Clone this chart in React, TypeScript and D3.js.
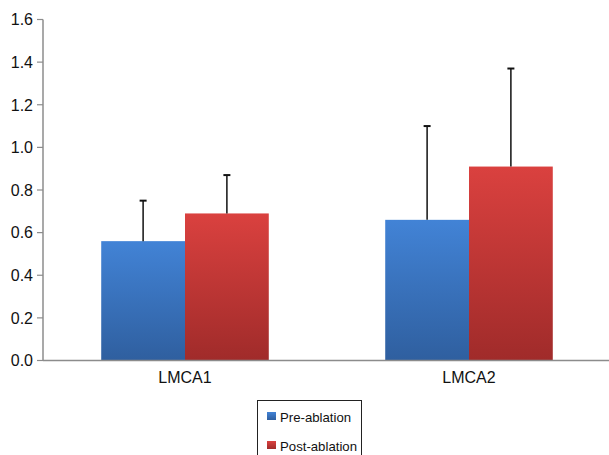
import React from "react";
import * as d3 from "d3";

const categories = ["LMCA1", "LMCA2"];
const seriesNames = ["Pre-ablation", "Post-ablation"];
const preValues = [0.56, 0.66];
const postValues = [0.69, 0.91];
const preErrors = [0.19, 0.44];
const postErrors = [0.18, 0.46];
const yTicks = [0, 0.2, 0.4, 0.6, 0.8, 1.0, 1.2, 1.4, 1.6];

const W = 609;
const H = 455;
const left = 43;
const right = 609;
const top = 19.5;
const bottom = 360.5;

export default function App() {
  const y = d3.scaleLinear().domain([0, 1.6]).range([bottom, top]);
  const x0 = d3.scaleBand<string>().domain(categories).range([left, right + 2]).paddingInner(0.41).paddingOuter(0.205);
  const x1 = d3.scaleBand<string>().domain(seriesNames).range([0, x0.bandwidth()]);
  const values = [preValues, postValues];
  const errors = [preErrors, postErrors];
  const grads = ["gradBlue", "gradRed"];
  const font = "Liberation Sans, Arial, Helvetica, sans-serif";

  return (
    <svg width={W} height={H} style={{ position: "absolute", left: 0, top: 0, background: "#fff" }}>
      <defs>
        <linearGradient id="gradBlue" x1="0" y1="0" x2="0" y2="1">
          <stop offset="0%" stopColor="#4283d6" />
          <stop offset="100%" stopColor="#2f5f9f" />
        </linearGradient>
        <linearGradient id="gradRed" x1="0" y1="0" x2="0" y2="1">
          <stop offset="0%" stopColor="#da413f" />
          <stop offset="100%" stopColor="#a02b2a" />
        </linearGradient>
      </defs>
      {/* y axis */}
      <line x1={left} x2={left} y1={top} y2={bottom} stroke="#8c8c8c" strokeWidth={1.5} />
      {yTicks.map((t) => (
        <g key={t}>
          <line x1={left - 6} x2={left} y1={y(t)} y2={y(t)} stroke="#8c8c8c" strokeWidth={1.2} />
          <text x={33} y={y(t)} dy="0.36em" textAnchor="end" fontFamily={font} fontSize={16} fill="#111">
            {d3.format(".1f")(t)}
          </text>
        </g>
      ))}
      {/* bars */}
      {categories.map((c, ci) => (
        <g key={c}>
          {seriesNames.map((s, si) => {
            const bx = (x0(c) ?? 0) + (x1(s) ?? 0);
            const v = values[si][ci];
            return (
              <rect key={s} x={bx} y={y(v)} width={x1.bandwidth()} height={bottom - y(v)} fill={`url(#${grads[si]})`} />
            );
          })}
        </g>
      ))}
      {/* error bars */}
      {categories.map((c, ci) => (
        <g key={c + "e"}>
          {seriesNames.map((s, si) => {
            const cx = (x0(c) ?? 0) + (x1(s) ?? 0) + x1.bandwidth() / 2;
            const v = values[si][ci];
            const e = errors[si][ci];
            return (
              <g key={s}>
                <line x1={cx} x2={cx} y1={y(v)} y2={y(v + e)} stroke="#111" strokeWidth={1.5} />
                <line x1={cx - 3.5} x2={cx + 3.5} y1={y(v + e)} y2={y(v + e)} stroke="#111" strokeWidth={2} />
              </g>
            );
          })}
        </g>
      ))}
      {/* x axis */}
      <line x1={left} x2={right} y1={bottom} y2={bottom} stroke="#8c8c8c" strokeWidth={1.5} />
      {categories.map((c) => (
        <text key={c} x={(x0(c) ?? 0) + x0.bandwidth() / 2} y={382.5} textAnchor="middle" fontFamily={font} fontSize={16} fill="#111">
          {c}
        </text>
      ))}
      {/* legend */}
      <rect x={257.5} y={400.5} width={104} height={60} fill="#fff" stroke="#222" strokeWidth={1} />
      {seriesNames.map((s, si) => (
        <g key={s}>
          <rect x={267} y={412 + si * 29} width={9} height={8} fill={`url(#${grads[si]})`} />
          <text x={280} y={421.5 + si * 29} fontFamily={font} fontSize={13.2} fill="#111">
            {s}
          </text>
        </g>
      ))}
    </svg>
  );
}
